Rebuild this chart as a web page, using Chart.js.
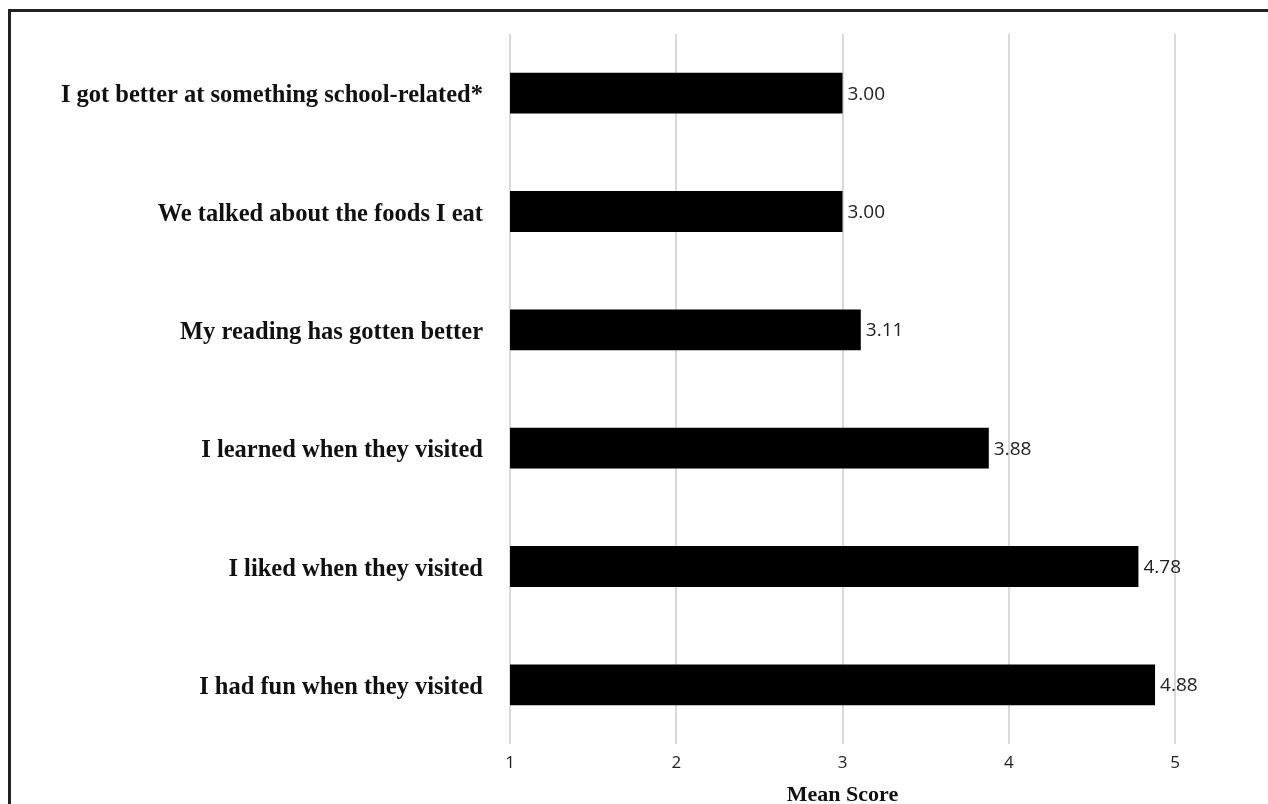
<!DOCTYPE html>
<html lang="en">
<head>
<meta charset="utf-8">
<title>Mean Score</title>
<style>
    html, body { margin: 0; padding: 0; background: #fff; }
    #wrap { position: relative; width: 1268px; height: 804px; overflow: hidden; }
    /* frame of the original figure: only top and left edges are visible */
    .frameTop { position: absolute; left: 8px; top: 9px; width: 1260px; height: 3px; background: #222; }
    .frameLeft { position: absolute; left: 8px; top: 9px; width: 3px; height: 795px; background: #222; }
    canvas { position: absolute; left: 0; top: 0; }
</style>
</head>
<body>
<div id="wrap">
    <div class="frameTop"></div>
    <div class="frameLeft"></div>
    <canvas id="myChart" width="1268" height="804"></canvas>
</div>
<script src="https://cdn.jsdelivr.net/npm/chart.js"></script>
<script>
    // data
    const categories = [
        'I got better at something school-related*',
        'We talked about the foods I eat',
        'My reading has gotten better',
        'I learned when they visited',
        'I liked when they visited',
        'I had fun when they visited'
    ];
    const meanScores = [3.00, 3.00, 3.11, 3.88, 4.78, 4.88];
    const xTicks = [1, 2, 3, 4, 5];
    const xTitle = 'Mean Score';

    // value labels right of each bar
    const valueLabels = {
        id: 'valueLabels',
        afterDatasetsDraw(chart) {
            const ctx = chart.ctx;
            const meta = chart.getDatasetMeta(0);
            ctx.save();
            ctx.font = '19px "Open Sans", sans-serif';
            ctx.fillStyle = '#222';
            ctx.textAlign = 'left';
            ctx.textBaseline = 'middle';
            meta.data.forEach(function (bar, i) {
                ctx.fillText(meanScores[i].toFixed(2), bar.x + 5, bar.y + 1);
            });
            ctx.restore();
        }
    };

    const main = document.getElementById('myChart');
    new Chart(main, {
        type: 'bar',
        data: {
            labels: categories,
            datasets: [{
                data: meanScores,
                backgroundColor: '#000',
                borderWidth: 0,
                barPercentage: 0.345,
                categoryPercentage: 1
            }]
        },
        options: {
            indexAxis: 'y',
            responsive: false,
            animation: false,
            layout: { padding: { top: 34, right: 93, left: 0, bottom: 0 } },
            plugins: {
                legend: { display: false },
                tooltip: { enabled: false }
            },
            scales: {
                x: {
                    type: 'linear',
                    min: xTicks[0],
                    max: xTicks[xTicks.length - 1],
                    afterBuildTicks(scale) {
                        scale.ticks = xTicks.map(v => ({ value: v }));
                    },
                    afterFit(scale) { scale.height = 60; },
                    border: { display: false },
                    grid: { color: '#d9d9d9', lineWidth: 2, drawTicks: false },
                    ticks: {
                        padding: 9,
                        color: '#222',
                        font: { family: '"Open Sans", sans-serif', size: 17 }
                    },
                    title: {
                        display: true,
                        text: xTitle,
                        color: '#111',
                        padding: { top: 0, bottom: -5 },
                        font: { family: '"Liberation Serif", "Times New Roman", serif', size: 22, weight: 'bold' }
                    }
                },
                y: {
                    afterFit(scale) {
                        scale.width = 510;
                        // labels sit in the middle of their band, no extra room needed
                        scale.paddingTop = 0;
                        scale.paddingBottom = 0;
                    },
                    border: { display: false },
                    grid: { display: false, drawTicks: false },
                    ticks: {
                        padding: 27,
                        labelOffset: 3,
                        color: '#111',
                        font: { family: '"Liberation Serif", "Times New Roman", serif', size: 24.5, weight: 'bold' }
                    }
                }
            }
        },
        plugins: [valueLabels]
    });
</script>
</body>
</html>
